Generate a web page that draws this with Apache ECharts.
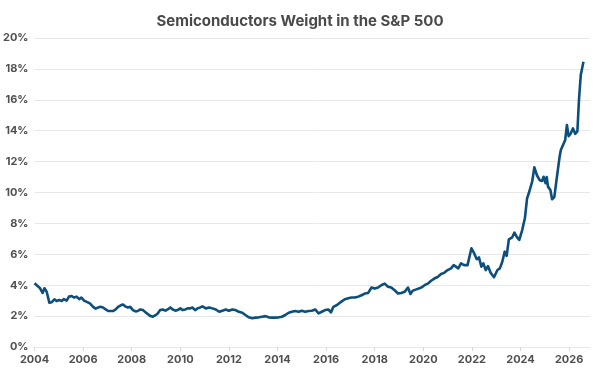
<!DOCTYPE html>
<html>
<head>
<meta charset="utf-8">
<script src="https://cdn.jsdelivr.net/npm/echarts@6/dist/echarts.min.js"></script>
<style>
  html, body { margin: 0; padding: 0; background: #fff; }
  #chart { width: 600px; height: 374px; }
</style>
</head>
<body>
<div id="chart"></div>
<script>
// decimal years and weight (%)
var years = [
  2004.0, 2004.23, 2004.33, 2004.41, 2004.50, 2004.61, 2004.71, 2004.82, 2004.91,
  2005.02, 2005.12, 2005.21, 2005.32, 2005.42, 2005.53, 2005.62, 2005.73, 2005.84, 2005.93,
  2006.04, 2006.17, 2006.28, 2006.41, 2006.52, 2006.62, 2006.71, 2006.82, 2006.93,
  2007.03, 2007.14, 2007.23, 2007.34, 2007.44, 2007.55, 2007.64, 2007.73, 2007.84, 2007.94,
  2008.05, 2008.16, 2008.25, 2008.35, 2008.46, 2008.57, 2008.66, 2008.77, 2008.87, 2008.98,
  2009.07, 2009.17, 2009.28, 2009.39, 2009.48, 2009.59, 2009.69, 2009.80, 2009.89,
  2010.00, 2010.09, 2010.20, 2010.30, 2010.41, 2010.50, 2010.61, 2010.71, 2010.82, 2010.91,
  2011.05, 2011.19, 2011.32, 2011.46, 2011.60, 2011.73, 2011.87,
  2012.00, 2012.14, 2012.27, 2012.41, 2012.55, 2012.68, 2012.82, 2012.96,
  2013.09, 2013.23, 2013.37, 2013.50, 2013.64, 2013.78, 2013.91,
  2014.05, 2014.18, 2014.32, 2014.46, 2014.59, 2014.73, 2014.87,
  2015.00, 2015.14, 2015.28, 2015.41, 2015.55, 2015.69, 2015.82, 2015.96,
  2016.09, 2016.20, 2016.30, 2016.43, 2016.57, 2016.77, 2016.91,
  2017.05, 2017.18, 2017.32, 2017.46, 2017.59, 2017.73, 2017.87,
  2018.00, 2018.14, 2018.27, 2018.41, 2018.55, 2018.68, 2018.82, 2018.96,
  2019.09, 2019.23, 2019.37, 2019.47, 2019.57, 2019.71, 2019.84, 2019.93,
  2020.05, 2020.18, 2020.32, 2020.45, 2020.59, 2020.73, 2020.86,
  2021.00, 2021.14, 2021.25, 2021.34, 2021.44, 2021.55, 2021.68, 2021.82, 2021.89, 2021.98,
  2022.09, 2022.20, 2022.29, 2022.39, 2022.47, 2022.57, 2022.66, 2022.77, 2022.91,
  2023.05, 2023.15, 2023.25, 2023.35, 2023.43, 2023.52, 2023.66, 2023.75, 2023.86, 2023.95,
  2024.07, 2024.18, 2024.27, 2024.34, 2024.41, 2024.48, 2024.57, 2024.68, 2024.79, 2024.89, 2024.95,
  2025.03, 2025.08, 2025.13, 2025.23, 2025.30, 2025.39, 2025.50, 2025.61, 2025.66, 2025.74, 2025.84, 2025.91, 2025.98,
  2026.07, 2026.16, 2026.25, 2026.34, 2026.41, 2026.48, 2026.59
];
var weights = [
  4.12, 3.8, 3.5, 3.8, 3.58, 2.87, 2.9, 3.09, 2.98,
  3.04, 2.98, 3.1, 3.0, 3.26, 3.3, 3.2, 3.26, 3.1, 3.2,
  3.0, 2.9, 2.82, 2.6, 2.48, 2.56, 2.6, 2.56, 2.43,
  2.33, 2.33, 2.33, 2.43, 2.6, 2.7, 2.75, 2.63, 2.56, 2.6,
  2.39, 2.3, 2.33, 2.43, 2.39, 2.24, 2.13, 2.0, 1.96, 2.06,
  2.17, 2.39, 2.43, 2.35, 2.43, 2.56, 2.43, 2.35, 2.39,
  2.5, 2.39, 2.43, 2.5, 2.5, 2.56, 2.39, 2.5, 2.56, 2.63,
  2.5, 2.56, 2.5, 2.43, 2.28, 2.35, 2.43,
  2.35, 2.43, 2.39, 2.28, 2.22, 2.07, 1.92, 1.86,
  1.9, 1.92, 1.96, 2.0, 1.92, 1.9, 1.9,
  1.92, 1.96, 2.07, 2.22, 2.28, 2.33, 2.28,
  2.35, 2.28, 2.33, 2.35, 2.43, 2.18, 2.28, 2.39,
  2.43, 2.24, 2.6, 2.7, 2.87, 3.09, 3.15,
  3.2, 3.2, 3.26, 3.35, 3.46, 3.5, 3.85,
  3.78, 3.85, 4.0, 4.1, 3.9, 3.85, 3.67, 3.46,
  3.5, 3.57, 3.85, 3.43, 3.65, 3.73, 3.8, 3.86,
  4.0, 4.1, 4.29, 4.43, 4.53, 4.72, 4.8,
  4.98, 5.09, 5.3, 5.2, 5.09, 5.41, 5.3, 5.3, 5.41, 6.39,
  6.07, 5.68, 5.8, 5.2, 5.41, 4.98, 5.24, 4.81, 4.51,
  4.98, 5.09, 5.52, 6.17, 5.9, 6.97, 7.1, 7.4, 7.1, 6.93,
  7.57, 8.33, 9.62, 9.95, 9.9, 10.7, 11.63, 11.1, 10.8, 10.75, 11.02,
  10.6, 11.0, 10.38, 10.16, 9.56, 9.7, 11.02, 12.32, 12.75, 12.84, 13.4, 14.37, 13.65,
  13.83, 14.15, 13.8, 13.95, 16.1, 17.6, 18.47
];
var yearTicks = [2004, 2006, 2008, 2010, 2012, 2014, 2016, 2018, 2020, 2022, 2024, 2026];

var points = years.map(function (y, i) { return [y, weights[i]]; });

var labelColor = '#505050';
var gridColor = '#e8e8e8';

var chart = echarts.init(document.getElementById('chart'));
chart.setOption({
  animation: false,
  title: {
    text: 'Semiconductors Weight in the S&P 500',
    left: 'center',
    top: 9,
    textStyle: {
      fontFamily: 'Inter',
      fontSize: 15,
      fontWeight: 700,
      color: '#4a4a4a'
    }
  },
  grid: {
    left: 31,
    right: 10,
    top: 38,
    bottom: 27,
    containLabel: false
  },
  xAxis: {
    type: 'value',
    min: 2004,
    max: 2026.86,
    interval: 2,
    axisLine: { show: true, lineStyle: { color: gridColor, width: 1 } },
    axisTick: {
      show: true,
      length: 4,
      customValues: yearTicks,
      lineStyle: { color: '#d8d8d8' }
    },
    splitLine: { show: false },
    axisLabel: {
      customValues: yearTicks,
      margin: 7,
      color: labelColor,
      fontFamily: 'Inter',
      fontSize: 11,
      fontWeight: 700,
      formatter: function (v) { return String(v); }
    }
  },
  yAxis: {
    type: 'value',
    min: 0,
    max: 20,
    interval: 2,
    axisLine: { show: false },
    axisTick: { show: false },
    splitLine: { show: true, lineStyle: { color: gridColor, width: 1 } },
    axisLabel: {
      margin: 6,
      color: labelColor,
      fontFamily: 'Inter',
      fontSize: 11,
      fontWeight: 700,
      formatter: '{value}%'
    }
  },
  series: [
    {
      name: 'Semiconductors',
      type: 'line',
      data: points,
      showSymbol: false,
      smooth: false,
      lineStyle: { color: '#0d4f7c', width: 2.6, join: 'round' },
      itemStyle: { color: '#0d4f7c' }
    }
  ]
});
</script>
</body>
</html>
